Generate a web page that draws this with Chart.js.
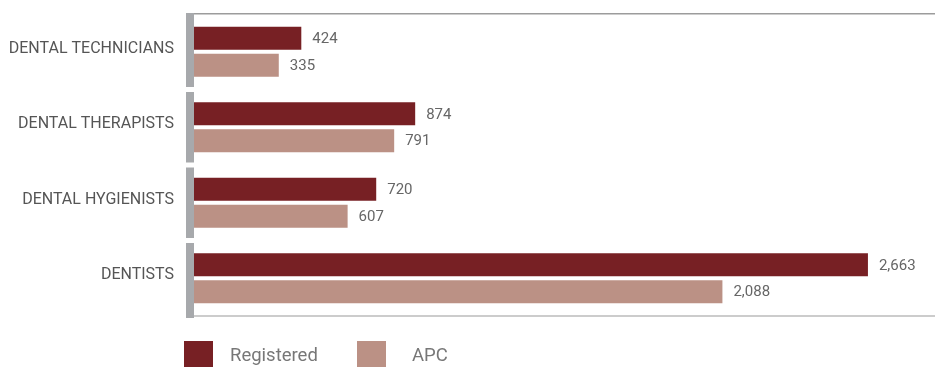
<!DOCTYPE html>
<html>
<head>
<meta charset="utf-8">
<script src="https://cdn.jsdelivr.net/npm/chart.js@4"></script>
<style>
  body { margin: 0; background: #fff; }
  #wrap { position: relative; width: 936px; height: 367px; overflow: hidden; }
  .legend { position: absolute; top: 341px; height: 29px; font-family: Roboto, sans-serif; font-size: 18.5px; color: #777; }
  .legend span.box { position: absolute; left: 0; top: 0; width: 29px; height: 29px; }
  .legend span.txt { position: absolute; top: 3px; white-space: nowrap; }
</style>
</head>
<body>
<div id="wrap">
  <canvas id="myChart" width="936" height="367"></canvas>
  <div class="legend" style="left:184px"><span class="box" style="background:#772024"></span><span class="txt" style="left:46px">Registered</span></div>
  <div class="legend" style="left:357px"><span class="box" style="background:#bb9185"></span><span class="txt" style="left:55px">APC</span></div>
</div>
<script>
const categories = ['DENTAL TECHNICIANS', 'DENTAL THERAPISTS', 'DENTAL HYGIENISTS', 'DENTISTS'];
const registered = [424, 874, 720, 2663];
const apc = [335, 791, 607, 2088];

// value labels at the end of each bar
const valueLabels = {
    id: 'valueLabels',
    afterDatasetsDraw(chart) {
        const ctx = chart.ctx;
        ctx.save();
        ctx.font = '15px Roboto';
        ctx.fillStyle = '#666';
        ctx.textBaseline = 'middle';
        chart.data.datasets.forEach(function (ds, i) {
            chart.getDatasetMeta(i).data.forEach(function (bar, j) {
                ctx.fillText(ds.data[j].toLocaleString('en-US'), bar.x + 11, bar.y + 1);
            });
        });
        ctx.restore();
    }
};

// grey axis pieces per category + top/bottom rules
const frame = {
    id: 'frame',
    beforeDatasetsDraw(chart) {
        const ctx = chart.ctx;
        const area = chart.chartArea;
        const y = chart.scales.y;
        const n = categories.length;
        const step = (area.bottom - area.top) / n;
        ctx.save();
        ctx.fillStyle = '#a7a9ac';
        for (let i = 0; i < n; i++) {
            const c = y.getPixelForValue(i);
            const top = i === 0 ? area.top - 1 : c - step / 2 + 2.5;
            const bottom = i === n - 1 ? area.bottom + 2 : c + step / 2 - 2.5;
            ctx.fillRect(area.left - 8, top, 8, bottom - top);
        }
        ctx.fillStyle = '#9c9c9c';
        ctx.fillRect(area.left, area.top - 1, area.right - area.left, 1.5);
        ctx.fillStyle = '#cccccc';
        ctx.fillRect(area.left, area.bottom - 1, area.right - area.left, 2);
        ctx.restore();
    }
};

new Chart(document.getElementById('myChart'), {
    type: 'bar',
    data: {
        labels: categories,
        datasets: [
            { label: 'Registered', data: registered, backgroundColor: '#772024', categoryPercentage: 0.715, barPercentage: 0.852 },
            { label: 'APC', data: apc, backgroundColor: '#bb9185', categoryPercentage: 0.715, barPercentage: 0.852 }
        ]
    },
    options: {
        indexAxis: 'y',
        responsive: false,
        animation: false,
        layout: { padding: { top: 14, right: 1, bottom: 51, left: 0 } },
        plugins: { legend: { display: false }, tooltip: { enabled: false } },
        scales: {
            x: { display: false, min: 0, max: 2928 },
            y: {
                grid: { display: false },
                border: { display: false },
                ticks: { color: '#555', font: { family: 'Roboto', size: 16 }, padding: 12, labelOffset: -3 },
                afterFit: function (scale) {
                    scale.width = 194;
                    scale.paddingTop = 0;
                    scale.paddingBottom = 0;
                }
            }
        }
    },
    plugins: [frame, valueLabels]
});
</script>
</body>
</html>
